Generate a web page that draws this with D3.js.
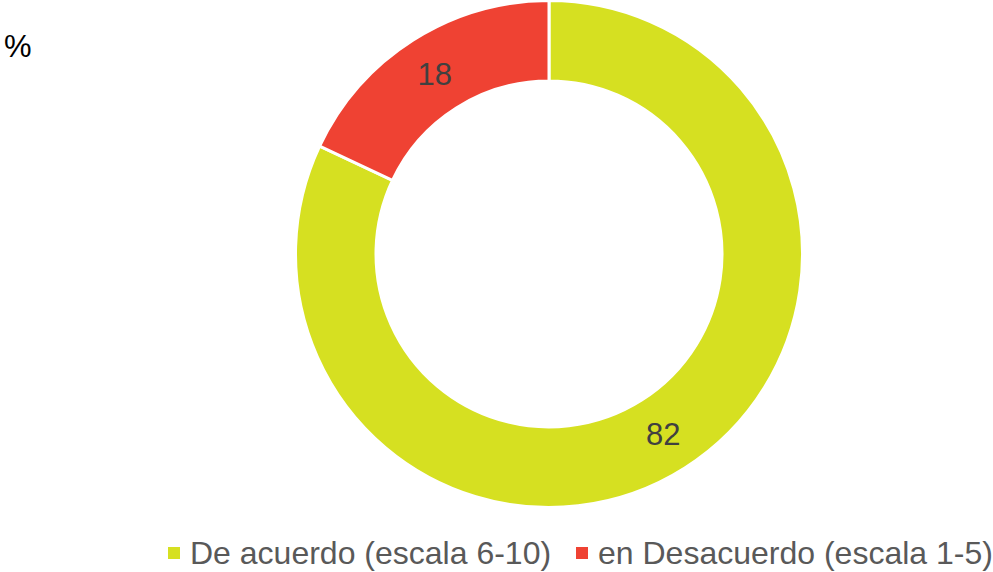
<!DOCTYPE html>
<html>
<head>
<meta charset="utf-8">
<script src="https://cdn.jsdelivr.net/npm/d3@7"></script>
<style>
	body { margin: 0; background: #fff; }
	svg { display: block; font-family: Arial, "Liberation Sans", sans-serif; }
</style>
</head>
<body>
<div id="chart"></div>
<script>
// chart values
var categories = ["De acuerdo (escala 6-10)", "en Desacuerdo (escala 1-5)"];
var values = [82, 18];
var colors = ["#d6e021", "#ef4233"];

var width = 993,
	height = 572,
	cx = 549,
	cy = 254,
	outerR = 253.5,
	innerR = 173;

var svg = d3.select("#chart").append("svg")
	.attr("width", width)
	.attr("height", height);

svg.append("text")
	.attr("x", 4)
	.attr("y", 57)
	.attr("font-size", 31)
	.attr("fill", "#000")
	.text("%");

var pie = d3.pie().sort(null).value(function(d) { return d; });
var arc = d3.arc().innerRadius(innerR).outerRadius(outerR);

var g = svg.append("g").attr("transform", "translate(" + cx + "," + cy + ")");

var slices = g.selectAll("g.slice")
	.data(pie(values))
	.enter().append("g")
	.attr("class", "slice");

slices.append("path")
	.attr("d", arc)
	.attr("fill", function(d, i) { return colors[i]; })
	.attr("stroke", "#fff")
	.attr("stroke-width", 3);

slices.append("text")
	.attr("transform", function(d) { return "translate(" + arc.centroid(d) + ")"; })
	.attr("text-anchor", "middle")
	.attr("dy", "0.36em")
	.attr("font-size", 31)
	.attr("fill", "#404040")
	.text(function(d) { return d.data; });

// legend
var legendX = [168, 576];
var legend = svg.selectAll("g.legend")
	.data(categories)
	.enter().append("g")
	.attr("class", "legend")
	.attr("transform", function(d, i) { return "translate(" + legendX[i] + ",553)"; });

legend.append("rect")
	.attr("x", 0)
	.attr("y", -6)
	.attr("width", 12)
	.attr("height", 12)
	.attr("fill", function(d, i) { return colors[i]; });

legend.append("text")
	.attr("x", 22)
	.attr("y", 11)
	.attr("font-size", 32)
	.attr("fill", "#595959")
	.text(function(d) { return d; });
</script>
</body>
</html>
